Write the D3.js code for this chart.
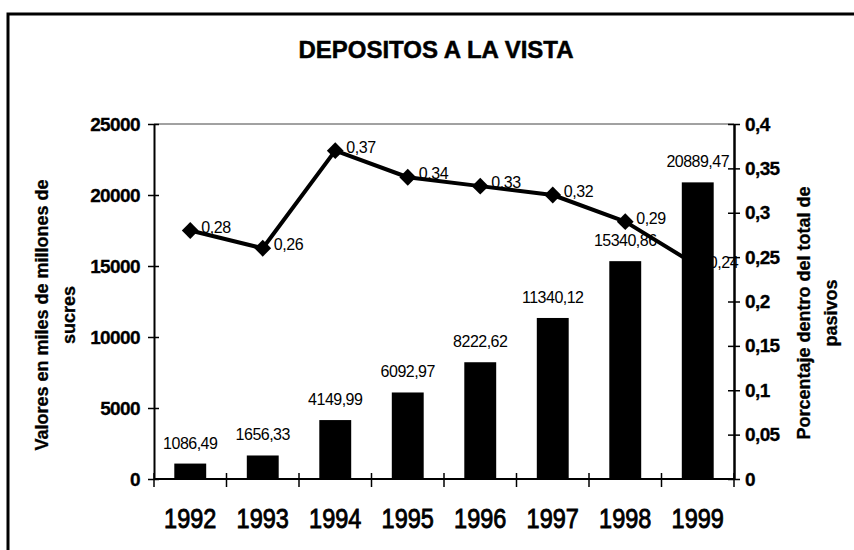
<!DOCTYPE html>
<html>
<head>
<meta charset="utf-8">
<script src="https://cdn.jsdelivr.net/npm/d3@7"></script>
<style>
  body { margin: 0; background: #fff; }
  svg { display: block; font-family: "Liberation Sans", Arial, sans-serif; }
</style>
</head>
<body>
<div id="chart"></div>
<script>
const WIDTH = 854;
const HEIGHT = 550;
const LEFT = 154;
const RIGHT = 734;
const TOP = 124;
const BOTTOM = 479;

const years = ['1992', '1993', '1994', '1995', '1996', '1997', '1998', '1999'];
const deposits = [1086.49, 1656.33, 4149.99, 6092.97, 8222.62, 11340.12, 15340.86, 20889.47];
const share = [0.28, 0.26, 0.37, 0.34, 0.33, 0.32, 0.29, 0.24];
const leftTicks = [0, 5000, 10000, 15000, 20000, 25000];
const rightTicks = [0, 0.05, 0.1, 0.15, 0.2, 0.25, 0.3, 0.35, 0.4];

const comma = (n, digits) => n.toFixed(digits).replace('.', ',');
const shortComma = (n) => String(+n.toFixed(2)).replace('.', ',');

let svg = d3.select('#chart').append('svg')
  .attr('width', WIDTH)
  .attr('height', HEIGHT);

// frame (only top and left edges show in the picture)
svg.append('rect')
  .attr('x', 8).attr('y', 14)
  .attr('width', 900).attr('height', 600)
  .attr('fill', 'none')
  .attr('stroke', '#000')
  .attr('stroke-width', 3);

svg.append('text')
  .attr('x', 436).attr('y', 58)
  .attr('text-anchor', 'middle')
  .attr('font-size', 24)
  .attr('font-weight', 'bold')
  .attr('stroke', '#000').attr('stroke-width', 0.5)
  .text('DEPOSITOS A LA VISTA');

let x = d3.scaleBand()
  .domain(years)
  .range([LEFT, RIGHT])
  .paddingInner(0.56)
  .paddingOuter(0.28);

let yLeft = d3.scaleLinear().domain([0, 25000]).range([BOTTOM, TOP]);
let yRight = d3.scaleLinear().domain([0, 0.4]).range([BOTTOM, TOP]);

// plot area top edge
svg.append('line')
  .attr('x1', LEFT).attr('x2', RIGHT)
  .attr('y1', TOP).attr('y2', TOP)
  .attr('stroke', '#444')
  .attr('stroke-width', 1);

// bars
svg.append('g').selectAll('rect')
  .data(deposits)
  .join('rect')
  .attr('x', (d, i) => x(years[i]))
  .attr('y', (d) => yLeft(d))
  .attr('width', x.bandwidth())
  .attr('height', (d) => BOTTOM - yLeft(d))
  .attr('fill', '#000');

svg.append('g').selectAll('text')
  .data(deposits)
  .join('text')
  .attr('x', (d, i) => x(years[i]) + x.bandwidth() / 2)
  .attr('y', (d) => yLeft(d) - 15)
  .attr('text-anchor', 'middle')
  .attr('font-size', 16)
  .attr('letter-spacing', -0.5)
  .text((d) => comma(d, 2));

// left axis
let leftAxis = d3.axisLeft(yLeft)
  .tickValues(leftTicks)
  .tickSize(0)
  .tickPadding(14)
  .tickFormat(d3.format('d'));

let gl = svg.append('g')
  .attr('transform', `translate(${LEFT},0)`)
  .call(leftAxis);
gl.select('.domain').attr('stroke-width', 2);
gl.selectAll('.tick text')
  .attr('font-size', 19)
  .attr('font-weight', 'bold')
  .attr('letter-spacing', -0.6)
  .attr('stroke', '#000').attr('stroke-width', 0.3)
  .attr('font-family', '"Liberation Sans", Arial, sans-serif');
gl.selectAll('.tick').append('line')
  .attr('x1', -6).attr('x2', 5)
  .attr('stroke', '#000').attr('stroke-width', 1.5);

// right axis
let rightAxis = d3.axisRight(yRight)
  .tickValues(rightTicks)
  .tickSize(0)
  .tickPadding(11)
  .tickFormat(shortComma);

let gr = svg.append('g')
  .attr('transform', `translate(${RIGHT},0)`)
  .call(rightAxis);
gr.select('.domain').attr('stroke-width', 2.5);
gr.selectAll('.tick text')
  .attr('font-size', 19)
  .attr('font-weight', 'bold')
  .attr('letter-spacing', -0.6)
  .attr('stroke', '#000').attr('stroke-width', 0.3)
  .attr('font-family', '"Liberation Sans", Arial, sans-serif');
gr.selectAll('.tick').append('line')
  .attr('x1', -6).attr('x2', 6)
  .attr('stroke', '#000').attr('stroke-width', 1.5);

// category axis: boundary ticks and year labels
let step = x.step();
let boundaries = d3.range(years.length + 1).map((i) => LEFT + i * step);

svg.append('line')
  .attr('x1', LEFT).attr('x2', RIGHT)
  .attr('y1', BOTTOM).attr('y2', BOTTOM)
  .attr('stroke', '#000').attr('stroke-width', 2);

svg.append('g').selectAll('line')
  .data(boundaries)
  .join('line')
  .attr('x1', (d) => d).attr('x2', (d) => d)
  .attr('y1', BOTTOM - 6).attr('y2', BOTTOM + 8)
  .attr('stroke', '#000').attr('stroke-width', 1.5);

svg.append('g').selectAll('text')
  .data(years)
  .join('text')
  .attr('transform', (d) => `translate(${x(d) + x.bandwidth() / 2},528) scale(0.84,1)`)
  .attr('text-anchor', 'middle')
  .attr('font-size', 28)
  .attr('stroke', '#000').attr('stroke-width', 0.9)
  .text((d) => d);

// percentage line
let line = d3.line()
  .x((d, i) => x(years[i]) + x.bandwidth() / 2)
  .y((d) => yRight(d));

svg.append('path')
  .datum(share)
  .attr('d', line)
  .attr('fill', 'none')
  .attr('stroke', '#000')
  .attr('stroke-width', 4)
  .attr('stroke-linejoin', 'round');

svg.append('g').selectAll('path')
  .data(share)
  .join('path')
  .attr('transform', (d, i) => `translate(${x(years[i]) + x.bandwidth() / 2},${yRight(d)})`)
  .attr('d', d3.symbol(d3.symbolDiamond2, 180))
  .attr('fill', '#000');

svg.append('g').selectAll('text')
  .data(share)
  .join('text')
  .attr('x', (d, i) => x(years[i]) + x.bandwidth() / 2 + 11)
  .attr('y', (d) => yRight(d) + 2)
  .attr('font-size', 16)
  .attr('letter-spacing', -0.4)
  .text((d) => comma(d, 2));

// axis titles
function axisTitle(cx, cy, lines, gap) {
  let t = svg.append('text')
    .attr('transform', `translate(${cx},${cy}) rotate(-90)`)
    .attr('text-anchor', 'middle')
    .attr('font-size', 18)
    .attr('font-weight', 'bold')
    .attr('stroke', '#000').attr('stroke-width', 0.3);
  lines.forEach((s, i) => {
    t.append('tspan')
      .attr('x', 0)
      .attr('y', i * gap)
      .text(s);
  });
}

axisTitle(48, 315, ['Valores en miles de millones de', 'sucres'], 27);
axisTitle(810, 313, ['Porcentaje dentro del total de', 'pasivos'], 27);
</script>
</body>
</html>
